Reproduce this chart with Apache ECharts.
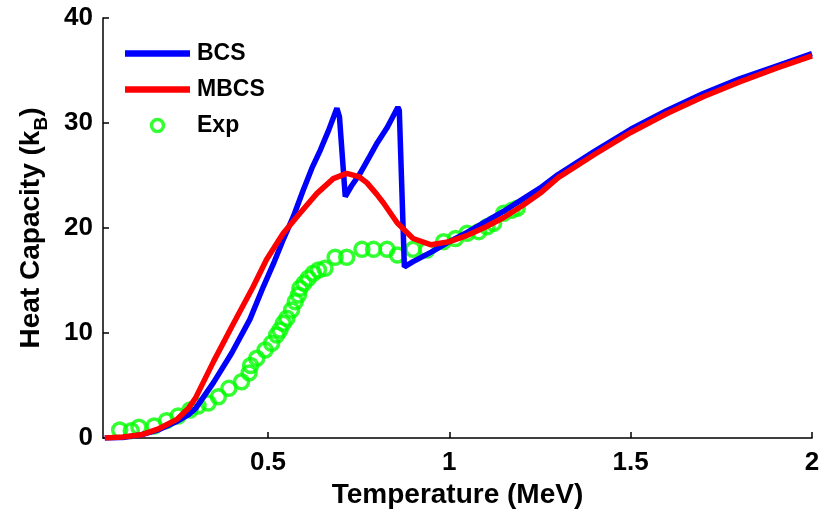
<!DOCTYPE html>
<html>
<head>
<meta charset="utf-8">
<script src="https://cdn.jsdelivr.net/npm/echarts@6/dist/echarts.min.js"></script>
<style>
  html, body { margin: 0; padding: 0; background: #fff; }
  #chart { width: 820px; height: 517px; }
</style>
</head>
<body>
<div id="chart"></div>
<script>
// BCS curve
const bcsT = [0.05, 0.1, 0.15, 0.2, 0.25, 0.28, 0.3, 0.35, 0.4, 0.45, 0.487, 0.515, 0.542, 0.57, 0.597, 0.621, 0.644, 0.667, 0.69, 0.697, 0.713, 0.73, 0.754, 0.78, 0.801, 0.829, 0.858, 0.862, 0.876, 0.9, 0.95, 1.0, 1.05, 1.1, 1.15, 1.2, 1.25, 1.3, 1.4, 1.5, 1.6, 1.7, 1.8, 1.9, 2.0];
const bcsC = [0, 0.05, 0.3, 0.8, 1.6, 2.2, 2.8, 5.3, 8.1, 11.3, 14.4, 16.6, 18.9, 21.1, 23.6, 25.7, 27.4, 29.3, 31.4, 30.6, 23.0, 24.0, 25.2, 26.8, 28.1, 29.6, 31.5, 31.2, 16.3, 16.8, 17.7, 18.7, 19.6, 20.6, 21.6, 22.7, 23.8, 25.1, 27.3, 29.4, 31.2, 32.8, 34.2, 35.4, 36.6];

// MBCS curve
const mbcsT = [0.05, 0.1, 0.15, 0.2, 0.25, 0.28, 0.3, 0.35, 0.4, 0.459, 0.496, 0.542, 0.588, 0.635, 0.68, 0.717, 0.75, 0.773, 0.8, 0.818, 0.856, 0.9, 0.95, 1.0, 1.05, 1.1, 1.15, 1.2, 1.25, 1.3, 1.4, 1.5, 1.6, 1.7, 1.8, 1.9, 2.0];
const mbcsC = [0, 0.1, 0.3, 0.9, 1.8, 2.8, 3.8, 7.3, 10.6, 14.4, 17.0, 19.5, 21.4, 23.3, 24.7, 25.2, 24.9, 24.3, 23.2, 22.4, 20.5, 19.0, 18.4, 18.7, 19.3, 20.1, 21.0, 22.1, 23.3, 24.8, 27.0, 29.1, 30.9, 32.5, 33.9, 35.2, 36.4];

// experimental points
const expT = [0.091, 0.123, 0.144, 0.186, 0.220, 0.252, 0.285, 0.307, 0.335, 0.363, 0.392, 0.427, 0.448, 0.452, 0.469, 0.492, 0.510, 0.524, 0.533, 0.542, 0.552, 0.565, 0.575, 0.584, 0.588, 0.599, 0.611, 0.625, 0.639, 0.657, 0.685, 0.717, 0.759, 0.791, 0.828, 0.857, 0.900, 0.938, 0.984, 1.017, 1.049, 1.081, 1.104, 1.122, 1.150, 1.173, 1.187];
const expC = [0.76, 0.70, 1.02, 1.14, 1.65, 2.10, 2.67, 3.05, 3.33, 3.93, 4.73, 5.36, 6.2, 6.9, 7.59, 8.38, 9.02, 9.81, 10.29, 10.92, 11.4, 12.19, 12.98, 13.62, 14.26, 14.73, 15.21, 15.69, 16.0, 16.16, 17.21, 17.21, 17.97, 17.97, 17.97, 17.43, 17.97, 17.9, 18.7, 19.0, 19.5, 19.65, 20.12, 20.44, 21.4, 21.7, 21.88];

const xTicks = [0.5, 1, 1.5, 2];

function pairs(xs, ys) {
    return xs.map((x, i) => [x, ys[i]]);
}

let chart = echarts.init(document.getElementById('chart'));
let font = 'Liberation Sans';
let lineIcon = 'path://M0 0H61V6H0Z';
let option = {
    animation: false,
    grid: {
        left: 103,
        right: 8,
        top: 18,
        bottom: 79,
        outerBoundsMode: 'none'
    },
    legend: {
        orient: 'vertical',
        left: 125,
        top: 42,
        padding: 0,
        itemWidth: 65,
        itemHeight: 12,
        itemGap: 13,
        textStyle: {
            fontFamily: font,
            fontWeight: 'bold',
            fontSize: 23,
            color: '#000',
            padding: [0, 0, 0, 2]
        },
        data: [
            { name: 'BCS', icon: lineIcon },
            { name: 'MBCS', icon: lineIcon },
            { name: 'Exp', icon: 'circle', itemStyle: { borderWidth: 3.5 } }
        ]
    },
    xAxis: {
        type: 'value',
        min: 0.045,
        max: 2,
        name: 'Temperature (MeV)',
        nameLocation: 'middle',
        nameGap: 41,
        nameTextStyle: {
            fontFamily: font,
            fontWeight: 'bold',
            fontSize: 28,
            color: '#000'
        },
        axisLine: { lineStyle: { color: '#000', width: 1.5 } },
        axisTick: {
            inside: true,
            length: 6,
            customValues: xTicks,
            lineStyle: { color: '#000', width: 1.5 }
        },
        axisLabel: {
            customValues: xTicks,
            margin: 12,
            fontFamily: font,
            fontWeight: 'bold',
            fontSize: 26,
            color: '#000'
        },
        splitLine: { show: false }
    },
    yAxis: {
        type: 'value',
        min: 0,
        max: 40,
        interval: 10,
        name: 'Heat Capacity (k{sub|B})',
        nameLocation: 'middle',
        nameGap: 58,
        nameTextStyle: {
            fontFamily: font,
            fontWeight: 'bold',
            fontSize: 28,
            color: '#000',
            rich: {
                sub: {
                    fontFamily: font,
                    fontWeight: 'bold',
                    fontSize: 19,
                    color: '#000',
                    verticalAlign: 'bottom',
                    padding: [0, 0, -6, 0]
                }
            }
        },
        axisLine: { show: true, lineStyle: { color: '#000', width: 1.5 } },
        axisTick: {
            show: true,
            inside: true,
            length: 6,
            lineStyle: { color: '#000', width: 1.5 }
        },
        axisLabel: {
            margin: 10,
            fontFamily: font,
            fontWeight: 'bold',
            fontSize: 26,
            color: '#000'
        },
        splitLine: { show: false }
    },
    series: [
        {
            name: 'BCS',
            type: 'line',
            data: pairs(bcsT, bcsC),
            symbol: 'none',
            color: '#0000ff',
            lineStyle: { color: '#0000ff', width: 5.5 }
        },
        {
            name: 'MBCS',
            type: 'line',
            data: pairs(mbcsT, mbcsC),
            symbol: 'none',
            color: '#ff0000',
            lineStyle: { color: '#ff0000', width: 5.5 }
        },
        {
            name: 'Exp',
            type: 'scatter',
            data: pairs(expT, expC),
            symbol: 'circle',
            symbolSize: 14,
            itemStyle: {
                color: 'rgba(0,0,0,0)',
                borderColor: '#00ff00',
                borderWidth: 3.5
            }
        }
    ]
};
chart.setOption(option);
</script>
</body>
</html>
